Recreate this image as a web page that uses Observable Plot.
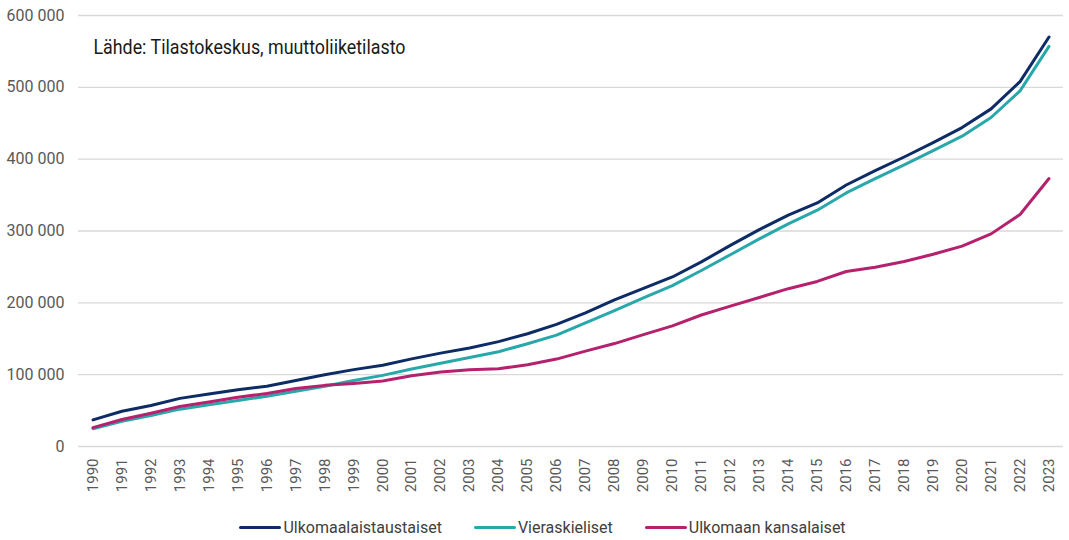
<!DOCTYPE html>
<html>
<head>
<meta charset="utf-8">
<script src="https://cdn.jsdelivr.net/npm/d3@7"></script>
<script src="https://cdn.jsdelivr.net/npm/@observablehq/plot@0.6"></script>
<style>
  html, body { margin: 0; padding: 0; background: #fff; }
  body { width: 1069px; height: 540px; overflow: hidden; font-family: Roboto, "Liberation Sans", sans-serif; }
  #legend { display: flex; justify-content: center; align-items: center; height: 32px; padding-top: 3px; padding-left: 16px; font-size: 16px; color: #404040; }
  .item { display: flex; align-items: center; margin: 0 16px; }
  .sw { width: 42px; height: 3px; margin-right: 2px; border-radius: 1.5px; }
</style>
</head>
<body>
<div id="chart"></div>
<div id="legend"></div>
<script>
const years = d3.range(1990, 2024);
const seriesNames = ["Ulkomaalaistaustaiset", "Vieraskieliset", "Ulkomaan kansalaiset"];
const seriesColors = ["#0d2c66", "#29a8ab", "#b5216c"];
const ulkomaalaistaustaiset = [37000, 49000, 57000, 67000, 73000, 79000, 84000, 92000, 100000, 107000, 113000, 122000, 130000, 137000, 146000, 157000, 170000, 186000, 204000, 220000, 236000, 257000, 280000, 302000, 322000, 339000, 364000, 384000, 403000, 423000, 444000, 470000, 508000, 570000];
const vieraskieliset = [24800, 35000, 43000, 52000, 58000, 64000, 70000, 77000, 84000, 92000, 99000, 108000, 116000, 124000, 132000, 143000, 155000, 172000, 189000, 207000, 224000, 245000, 267000, 289000, 310000, 329000, 353000, 373000, 392000, 412000, 432000, 458000, 495000, 557000];
const ulkomaanKansalaiset = [26300, 37600, 46300, 55600, 62000, 68600, 73800, 80600, 85100, 87700, 91100, 98600, 103700, 107000, 108300, 113900, 121700, 132700, 143300, 155700, 168000, 183100, 195500, 207500, 219700, 229800, 243600, 249500, 257600, 267600, 279000, 296000, 323000, 373000];
const yTicks = [0, 100000, 200000, 300000, 400000, 500000, 600000];
const sourceText = "Lähde: Tilastokeskus, muuttoliiketilasto";

const allValues = [ulkomaalaistaustaiset, vieraskieliset, ulkomaanKansalaiset];
const data = [];
seriesNames.forEach((name, i) => {
  years.forEach((yr, j) => data.push({ series: name, year: yr, value: allValues[i][j] }));
});

const fmt = v => d3.format(",")(v).replace(/,/g, " ");

const chart = Plot.plot({
  width: 1069,
  height: 508,
  marginLeft: 78,
  marginRight: 6,
  marginTop: 15,
  marginBottom: 62,
  style: { fontFamily: "Roboto, sans-serif", fontSize: "16px", color: "#595959", background: "#fff" },
  x: { domain: [1989.5, 2023.5], label: null },
  y: { domain: [0, 600000], label: null },
  color: { domain: seriesNames, range: seriesColors },
  marks: [
    Plot.gridY(yTicks, { stroke: "#d9d9d9", strokeOpacity: 1, strokeWidth: 1.3 }),
    Plot.axisY(yTicks, { tickSize: 0, tickPadding: 14, tickFormat: fmt, fontSize: 16, fill: "#595959" }),
    Plot.axisX(years, { tickSize: 0, tickRotate: -90, tickPadding: 12, tickFormat: d => String(d), fontSize: 15, fill: "#595959" }),
    Plot.line(data, { x: "year", y: "value", z: "series", stroke: "series", strokeWidth: 3, curve: "linear" }),
    Plot.text([sourceText], { frameAnchor: "top-left", dx: 15, dy: 32, lineAnchor: "middle", fontSize: 20, fill: "#1a1a1a", textAnchor: "start" })
  ]
});
document.getElementById("chart").appendChild(chart);

// Condense the source note like the reference's narrow typeface
chart.querySelectorAll("text").forEach(t => {
  if (t.textContent === sourceText) {
    t.setAttribute("textLength", 312);
    t.setAttribute("lengthAdjust", "spacingAndGlyphs");
  }
});

const legend = document.getElementById("legend");
seriesNames.forEach((name, i) => {
  const item = document.createElement("div");
  item.className = "item";
  const sw = document.createElement("div");
  sw.className = "sw";
  sw.style.background = seriesColors[i];
  const lab = document.createElement("span");
  lab.textContent = name;
  item.appendChild(sw);
  item.appendChild(lab);
  legend.appendChild(item);
});
</script>
</body>
</html>
